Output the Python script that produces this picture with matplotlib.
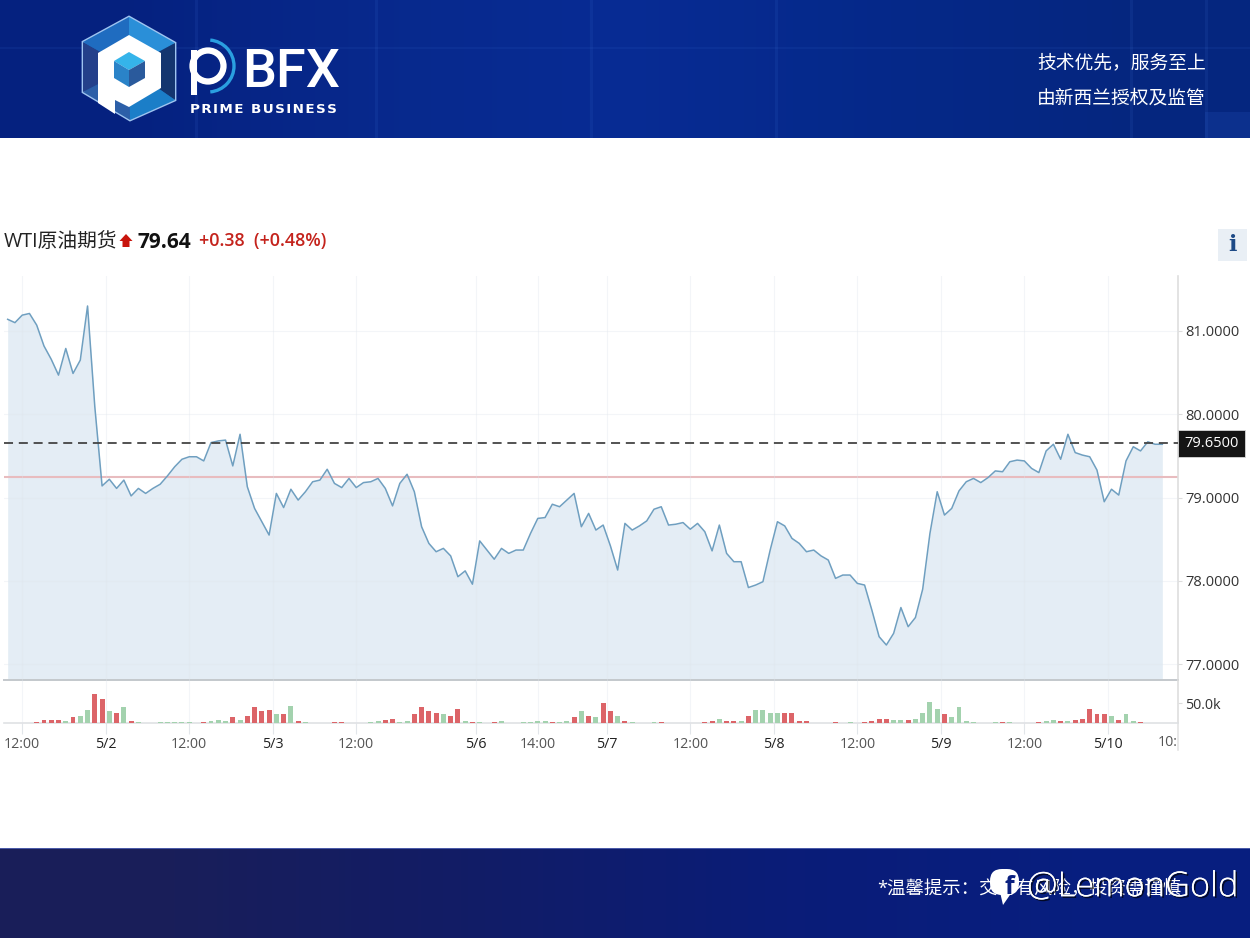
import numpy as np
import matplotlib
matplotlib.use("Agg")
import matplotlib.pyplot as plt
import matplotlib.patheffects as pe
from matplotlib.patches import Polygon, Rectangle, Circle, Arc, FancyBboxPatch

plt.rcParams['font.family'] = ['Open Sans', 'Noto Sans CJK SC', 'DejaVu Sans']

# hourly close
close = [81.14, 81.10, 81.19, 81.21, 81.07, 80.82, 80.66, 80.47, 80.79, 80.49,
         80.65, 81.30, 80.09, 79.14, 79.22, 79.11, 79.21, 79.02, 79.11, 79.05,
         79.11, 79.16, 79.26, 79.37, 79.46, 79.49, 79.49, 79.44, 79.66, 79.68,
         79.69, 79.38, 79.76, 79.13, 78.87, 78.71, 78.55, 79.05, 78.88, 79.10,
         78.97, 79.07, 79.19, 79.21, 79.34, 79.17, 79.12, 79.23, 79.12, 79.18,
         79.19, 79.23, 79.11, 78.90, 79.17, 79.28, 79.07, 78.65, 78.45, 78.35,
         78.39, 78.30, 78.05, 78.12, 77.96, 78.48, 78.37, 78.26, 78.39, 78.33,
         78.37, 78.37, 78.57, 78.75, 78.76, 78.92, 78.89, 78.97, 79.05, 78.65,
         78.81, 78.61, 78.67, 78.42, 78.13, 78.69, 78.61, 78.66, 78.72, 78.86,
         78.89, 78.67, 78.68, 78.70, 78.62, 78.69, 78.59, 78.36, 78.67, 78.33,
         78.23, 78.23, 77.92, 77.95, 77.99, 78.37, 78.71, 78.66, 78.51, 78.45,
         78.35, 78.37, 78.30, 78.25, 78.03, 78.07, 78.07, 77.97, 77.95, 77.65,
         77.33, 77.23, 77.37, 77.68, 77.45, 77.56, 77.90, 78.57, 79.07, 78.79,
         78.87, 79.08, 79.19, 79.23, 79.18, 79.24, 79.32, 79.31, 79.43, 79.45,
         79.44, 79.35, 79.30, 79.56, 79.64, 79.46, 79.76, 79.54, 79.51, 79.49,
         79.33, 78.95, 79.10, 79.03, 79.44, 79.61, 79.56, 79.67, 79.64, 79.64]

# volume in thousands
volume = [0, 0, 0, 0, 1.7, 7.5, 7.5, 7.5, 4, 15,
          18, 32, 73, 60, 29, 25, 39, 5, 1.7, 0,
          0, 1.7, 1.7, 1.7, 1.7, 1.7, 0, 1.7, 4, 7.5,
          4, 15, 7.5, 18, 39, 29, 32.5, 22, 22, 42.5,
          5, 1.7, 0, 0, 0, 1.7, 1.7, 0, 0, 0,
          1.7, 4, 7.5, 11, 1.7, 4, 22, 39, 29, 25,
          22, 18, 36, 4, 1.7, 1.7, 0, 1.7, 4, 0,
          0, 1.7, 1.7, 4, 4, 1.7, 1.7, 4, 15, 29,
          18, 15, 50, 29, 18, 4, 1.7, 0, 0, 1.7,
          1.7, 0, 0, 0, 0, 0, 1.7, 4, 11, 4,
          4, 4, 18, 32.5, 32.5, 25, 25, 25, 25, 4,
          4, 0, 0, 0, 1.7, 0, 1.7, 0, 1.7, 4,
          11, 11, 7.5, 7.5, 7.5, 11, 25, 52.5, 36, 22,
          15, 39, 4, 1.7, 0, 0, 1.7, 1.7, 1.7, 0,
          0, 0, 1.7, 4, 7.5, 4, 4, 7.5, 11, 36,
          22, 22, 18, 7.5, 22, 4, 1.7, 0, 0, 0]

# r = up bar, g = down bar
vol_side = ("ggggrrrrgr" "ggrrgrgrgg" "gggggggrgg" "grgrrrrgrg"
            "rggggrrggg" "ggrrggrrrr" "grrgrggrgg" "gggggrggrg"
            "rgrrgrgggg" "rgggggrrgr" "rgrggggrrr" "rgggrgggrr"
            "rrggrggggr" "gggggggrgg" "ggrggrgrrr" "rrgrggrggg")

tick_pos = [2, 13.5, 25, 36.5, 48, 64.5, 73, 82.5, 94, 105.5, 117, 128.5, 140, 151.5]
tick_labels = ['12:00', '5/2', '12:00', '5/3', '12:00', '5/6', '14:00', '5/7',
               '12:00', '5/8', '12:00', '5/9', '12:00', '5/10']
price_ticks = [77, 78, 79, 80, 81]
last_price = 79.65
prev_close = 79.25

W, H = 1250, 938
fig = plt.figure(figsize=(12.5, 9.38), dpi=100, facecolor='white')


def px_axes(left, top, right, bottom):
    return fig.add_axes([left / W, 1 - bottom / H, (right - left) / W, (bottom - top) / H])


# page background, banners, logo, all in pixel coords
bg = fig.add_axes([0, 0, 1, 1], zorder=-1)
bg.axis('off')

top_grad = np.array([[[0.02, 0.13, 0.50], [0.03, 0.16, 0.55], [0.03, 0.17, 0.58], [0.02, 0.16, 0.54], [0.02, 0.15, 0.50]]])
bg.imshow(top_grad, extent=(0, W, 138, 0), aspect='auto', interpolation='bilinear', zorder=0)
for sx in [195, 375, 590, 775, 1130, 1205]:
    bg.add_patch(Rectangle((sx, 0), 3, 138, color='#3f74d8', alpha=0.12, lw=0, zorder=1))
bg.add_patch(Rectangle((0, 47), W, 2, color='#3f74d8', alpha=0.10, lw=0, zorder=1))
bg.add_patch(Rectangle((1205, 112), 45, 26, color='#2a5cc8', alpha=0.2, lw=0, zorder=1))

foot_grad = np.array([[[0.10, 0.12, 0.35], [0.07, 0.11, 0.40], [0.04, 0.11, 0.47], [0.03, 0.12, 0.50]]])
bg.imshow(foot_grad, extent=(0, W, 938, 849), aspect='auto', interpolation='bilinear', zorder=0)
bg.add_patch(Rectangle((0, 848), W, 1.5, color='#4a5aa8', lw=0, zorder=1))
bg.set_xlim(0, W)
bg.set_ylim(H, 0)

# logo hexagon facets
hexa = [(129, 17), (175, 43), (175, 100), (130, 120), (83, 92), (83, 42)]
cx, cy = 129, 68
facet_cols = ['#2a8fd8', '#14356f', '#1b7ec8', '#2c5fa8', '#24408a', '#1f6cc0']
bg.add_patch(Polygon(hexa, closed=True, fc='#1b6cc0', ec='#9fc4f0', lw=2, zorder=3))
for k in range(6):
    bg.add_patch(Polygon([(cx, cy), hexa[k], hexa[(k + 1) % 6]], closed=True, fc=facet_cols[k], ec='none', zorder=3))
bg.add_patch(Polygon([(129, 35), (161, 53), (161, 88), (129, 107), (115, 100), (115, 114), (98, 103), (98, 53)],
                     closed=True, fc='white', ec='none', zorder=4))
bg.add_patch(Polygon([(129, 52), (145, 61), (129, 70), (114, 61)], closed=True, fc='#35b4ea', ec='none', zorder=5))
bg.add_patch(Polygon([(114, 61), (129, 70), (129, 87), (114, 78)], closed=True, fc='#2a83c8', ec='none', zorder=5))
bg.add_patch(Polygon([(145, 61), (129, 70), (129, 87), (145, 78)], closed=True, fc='#2a5a9c', ec='none', zorder=5))

# PBFX wordmark
bg.add_patch(Arc((208, 66), 52, 52, theta1=-85, theta2=85, ec='#2a9fe0', lw=2.4, zorder=3))
bg.add_patch(Circle((208, 66), 15.5, fc='none', ec='white', lw=4.5, zorder=4))
bg.add_patch(Rectangle((191, 50), 5.5, 45, fc='white', ec='none', zorder=4))
bg.text(242, 87, 'BFX', color='white', fontsize=39, family=['Roboto', 'DejaVu Sans'], weight='medium',
        va='baseline', ha='left', zorder=4)
bg.text(190, 113, '\u200a'.join('PRIME BUSINESS'), color='white', fontsize=9.7, weight='semibold',
        family=['DejaVu Sans'], va='baseline', ha='left', zorder=4)

bg.text(1037, 63, '技术优先，服务至上', color='white', fontsize=13.5, va='center', ha='left')
bg.text(1037, 99, '由新西兰授权及监管', color='white', fontsize=13.5, va='center', ha='left')

# title row
bg.text(4, 242, 'WTI原油期货', color='#222222', fontsize=14.2, va='center', ha='left')
bg.add_patch(Polygon([(126, 234), (132.5, 241), (129.5, 241), (129.5, 247), (122.5, 247), (122.5, 241), (119.5, 241)],
                     closed=True, fc='#c8140c', ec='none'))
bg.text(138, 242, '79.64', color='#111111', fontsize=15, weight='bold', va='center', ha='left')
bg.text(199, 241, '+0.38  (+0.48%)', color='#c4231c', fontsize=12.9, weight='semibold', va='center', ha='left')

bg.add_patch(Rectangle((1218, 229), 29, 32, fc='#e9eff5', ec='none'))
bg.text(1232.5, 245, 'i', color='#1d4a86', fontsize=16, weight='bold', family=['DejaVu Serif'], va='center', ha='center')

# footer
bg.text(877, 890, '*温馨提示：交易有风险，投资需谨慎', color='white', fontsize=13.2, va='center', ha='left', zorder=3)
bg.add_patch(FancyBboxPatch((990, 869), 29, 26, boxstyle='round,pad=0,rounding_size=12', fc='white', ec='none', zorder=5))
bg.add_patch(Polygon([(1000, 892), (1012, 892), (1003, 905)], closed=True, fc='white', ec='none', zorder=5))
bg.text(1009, 887, 'f', color='#0a2080', fontsize=18, weight='bold', va='center', ha='center', zorder=6)
bg.text(1027, 887, '@LemonGold', color='white', fontsize=24.8, family=['Open Sans'], weight='light',
        va='center', ha='left', zorder=6,
        path_effects=[pe.withSimplePatchShadow(offset=(1.2, -1.2), shadow_rgbFace='black', alpha=0.7), pe.Normal()])

# price panel
x = np.arange(len(close))
x_left = (4 - 7.67) / 7.262
x_right = (1178 - 7.67) / 7.262

ax = px_axes(4, 276, 1178, 680)
ax.fill_between(x, close, 76.8, color='#e4edf5', lw=0, zorder=1)
ax.plot(x, close, color='#6f9fc0', lw=1.1, zorder=3)
ax.axhline(prev_close, color='#e8bcbf', lw=1.5, zorder=2.5)
ax.axhline(last_price, color='#444444', lw=1.3, dashes=(5, 3.2), zorder=4)
ax.set_xlim(x_left, x_right)
ax.set_ylim(76.81, 81.66)
ax.set_xticks(tick_pos)
ax.set_xticklabels([])
ax.tick_params(axis='x', length=0)
ax.set_yticks(price_ticks)
ax.set_yticklabels(['%.4f' % p for p in price_ticks], fontsize=10.5, color='#333333')
ax.yaxis.tick_right()
ax.tick_params(axis='y', length=3, color='#dddddd', pad=2)
ax.grid(True, color='#dfe5ec', lw=0.8, alpha=0.35, zorder=2)
ax.set_axisbelow(False)
for s in ['top', 'left']:
    ax.spines[s].set_visible(False)
ax.spines['right'].set_color('#dedede')
ax.spines['right'].set_linewidth(1.2)
ax.spines['bottom'].set_color('#c4c8cc')
ax.spines['bottom'].set_linewidth(1.4)
ax.text(1.0053, last_price, '79.6500', transform=ax.get_yaxis_transform(), color='white', fontsize=10.5,
        va='center', ha='left', zorder=6,
        bbox=dict(boxstyle='square,pad=0.42', fc='#151515', ec='#d8d8d8', lw=0.6))

# volume panel
vax = px_axes(4, 680, 1178, 723)
vol_cols = ['#dc6468' if s == 'r' else '#a3d2ae' for s in vol_side]
vax.bar(x, volume, width=0.68, color=vol_cols, lw=0, zorder=3)
vax.set_xlim(x_left, x_right)
vax.set_ylim(0, 107.5)
vax.set_xticks(tick_pos)
vax.set_xticklabels(tick_labels, fontsize=10.3)
for lab, txt in zip(vax.get_xticklabels(), tick_labels):
    lab.set_color('#555555' if ':' in txt else '#222222')
vax.tick_params(axis='x', length=8, color='#e2e6ea', pad=2)
vax.set_yticks([50])
vax.set_yticklabels(['50.0k'], fontsize=10.3, color='#333333')
vax.yaxis.tick_right()
vax.tick_params(axis='y', length=3, color='#dddddd', pad=2)
vax.grid(True, axis='x', color='#dfe5ec', lw=0.8, alpha=0.35, zorder=1)
vax.patch.set_alpha(0)
for s in ['top', 'left']:
    vax.spines[s].set_visible(False)
vax.spines['right'].set_color('#dedede')
vax.spines['right'].set_linewidth(1.2)
vax.spines['bottom'].set_color('#dfe1e4')
vax.spines['bottom'].set_linewidth(1.2)

bg.plot([1177.5, 1177.5], [723, 750], color='#e4e4e4', lw=1.2)
bg.text(1178, 742, '10:', color='#555555', fontsize=10.3, va='center', ha='right')

fig.savefig('out.png', dpi=100)
